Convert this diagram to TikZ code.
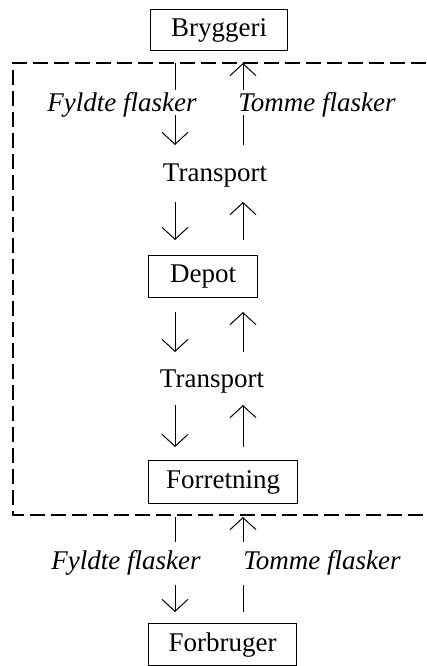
\documentclass[tikz,border=0pt]{standalone}
\usepackage{fontspec}
\setmainfont{Liberation Serif}
\usetikzlibrary{arrows.meta}
\begin{document}
\begin{tikzpicture}[x=1pt,y=-1pt,
  every node/.style={font=\fontsize{27}{30}\selectfont},
  stage/.style={draw, line width=1.1pt, anchor=north west, inner sep=0pt},
  flow/.style={font=\fontsize{27}{30}\selectfont\itshape, anchor=base},
  caption/.style={anchor=base},
  link/.style={line width=1pt},
  arr/.style={link, -{Straight Barb[length=12pt,width=26pt,line width=1pt]}},
  frame/.style={line width=1.4pt, dash pattern=on 15pt off 6pt}]
\useasboundingbox (0,0) rectangle (426,666);

% dashed boundary around the distribution chain
\draw[frame] (426,63) -- (13,63) -- (13,515) -- (426,515);

% stations
\node[stage, minimum width=137pt, minimum height=41pt] (brew)  at (150,9)   {Bryggeri};
\node[stage, minimum width=109pt, minimum height=42pt] (depot) at (148,255) {Depot};
\node[stage, minimum width=149pt, minimum height=43pt] (shop)  at (148,460) {Forretning};
\node[stage, minimum width=148pt, minimum height=42pt] (user)  at (148,623) {Forbruger};

% flow labels
\node[flow] (fullA)  at (122,111) {Fyldte flasker};
\node[flow] (emptyA) at (317,111) {Tomme flasker};
\node[caption] (transA) at (215,181) {Transport};
\node[caption] (transB) at (212,387) {Transport};
\node[flow] (fullB)  at (126,569) {Fyldte flasker};
\node[flow] (emptyB) at (322,569) {Tomme flasker};

% end points of the two flow lines
\foreach \n/\y in {1/63,2/90,3/115,4/145,5/202,6/240,7/312,8/352,9/405,10/447,11/517,12/542,13/585,14/612}{
  \coordinate (L\n) at (175,\y);
  \coordinate (R\n) at (243,\y);
}

% full bottles going down
\draw[link] (L1) -- (L2);
\draw[arr]  (L3) -- (L4);
\draw[arr]  (L5) -- (L6);
\draw[arr]  (L7) -- (L8);
\draw[arr]  (L9) -- (L10);
\draw[link] (L11) -- (L12);
\draw[arr]  (L13) -- (L14);

% empty bottles going up
\draw[arr]  (R2) -- (R1);
\draw[link] (R4) -- (R3);
\draw[arr]  (R6) -- (R5);
\draw[arr]  (R8) -- (R7);
\draw[arr]  (R10) -- (R9);
\draw[arr]  (R12) -- (R11);
\draw[link] (R14) -- (R13);
\end{tikzpicture}
\end{document}
